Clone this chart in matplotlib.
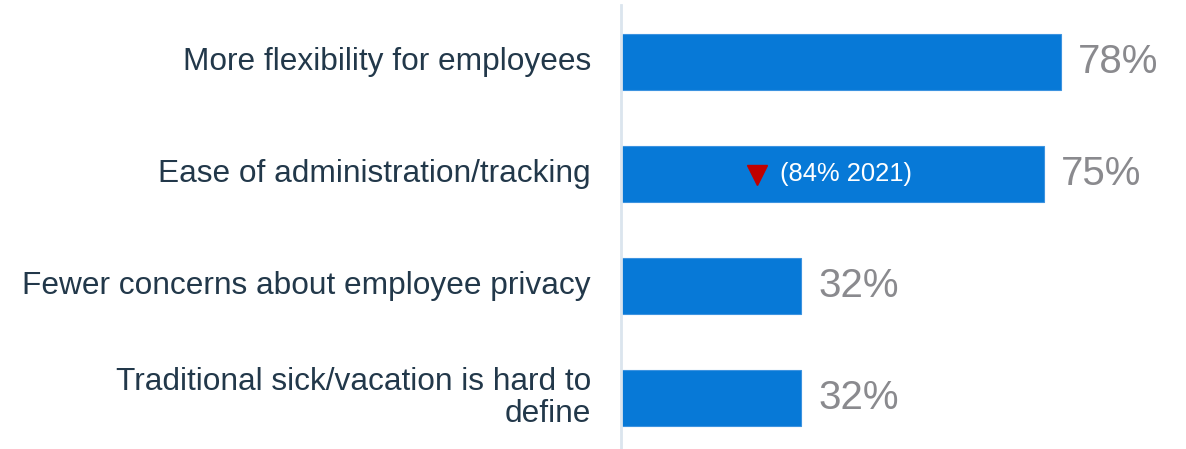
import matplotlib.pyplot as plt

# data
categories = ['More flexibility for employees',
              'Ease of administration/tracking',
              'Fewer concerns about employee privacy',
              'Traditional sick/vacation is hard to\ndefine']
values = [78, 75, 32, 32]
value_labels = ['78%', '75%', '32%', '32%']
note_text = '(84% 2021)'
note_index = 1

plt.rcParams['font.family'] = ['Liberation Sans', 'DejaVu Sans']

fig = plt.figure(figsize=(11.86, 4.49), dpi=100)
ax = fig.add_axes([621 / 1186, 0, 564 / 1186, 444 / 449])

pos = list(range(len(categories)))
ax.barh(pos, values, height=0.5, color='#0779d7', edgecolor='#3d93e0', linewidth=0.8)

ax.set_xlim(0, 100)
ax.set_ylim(3.455, -0.509)

for i, (v, lab) in enumerate(zip(values, value_labels)):
    ax.text(v + 3.0, i, lab, va='center', ha='left', fontsize=29, color='#8a8a8e')
    ax.text(-5.3, i, categories[i], va='center', ha='right', fontsize=22.8,
            color='#22384a', linespacing=1.12)

# note inside the second bar
ax.plot([24.2], [note_index + 0.01], marker='v', markersize=14, color='#c00000',
        linestyle='none')
ax.text(28.2, note_index, note_text, va='center', ha='left', fontsize=18.4, color='white')

for s in ['top', 'right', 'bottom']:
    ax.spines[s].set_visible(False)
ax.spines['left'].set_color('#dbe5ee')
ax.spines['left'].set_linewidth(2)
ax.set_xticks([])
ax.set_yticks([])

fig.savefig('out.png', dpi=100)
